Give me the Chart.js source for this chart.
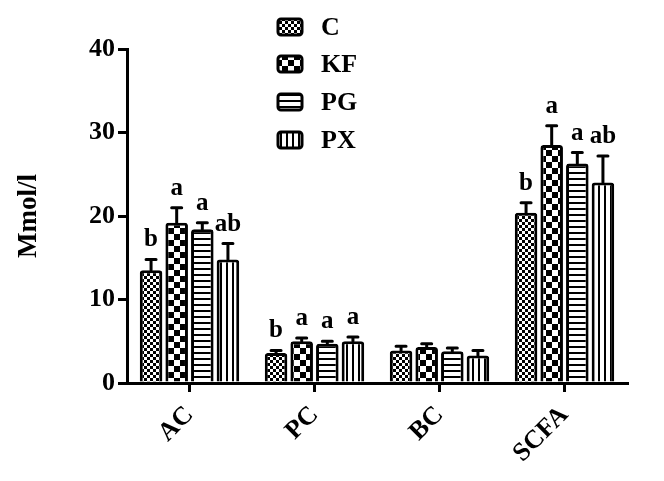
<!DOCTYPE html>
<html>
<head>
<meta charset="utf-8">
<script src="https://cdn.jsdelivr.net/npm/chart.js@4.4.1/dist/chart.umd.min.js"></script>
<style>
html, body { margin: 0; padding: 0; background: #fff; }
#wrap { width: 664px; height: 481px; position: relative; }
</style>
</head>
<body>
<div id="wrap"><canvas id="grafico"></canvas></div>
<script>
// dados do gráfico
const categorias = ['AC', 'PC', 'BC', 'SCFA'];
const grupos = ['C', 'KF', 'PG', 'PX'];
const valoresC = [13.5, 3.6, 3.9, 20.4];
const valoresKF = [19.2, 5.0, 4.3, 28.5];
const valoresPG = [18.4, 4.7, 3.8, 26.3];
const valoresPX = [14.8, 5.0, 3.3, 24.0];
const erroC = [1.3, 0.3, 0.5, 1.2];
const erroKF = [1.8, 0.4, 0.4, 2.3];
const erroPG = [0.8, 0.3, 0.4, 1.3];
const erroPX = [1.9, 0.5, 0.6, 3.2];
const letrasC = ['b', 'b', '', 'b'];
const letrasKF = ['a', 'a', '', 'a'];
const letrasPG = ['a', 'a', '', 'a'];
const letrasPX = ['ab', 'a', '', 'ab'];
const ticksY = [0, 10, 20, 30, 40];

const fonte = '"Liberation Serif", "Times New Roman", serif';

// padrões de preenchimento
function padrao(tipo) {
    const c = document.createElement('canvas');
    const g = c.getContext('2d');
    if (tipo === 'xadrezFino') {
        c.width = 6; c.height = 6;
        g.fillStyle = '#fff'; g.fillRect(0, 0, 6, 6);
        g.fillStyle = '#000'; g.fillRect(0, 0, 3, 3); g.fillRect(3, 3, 3, 3);
    } else if (tipo === 'xadrezGrosso') {
        c.width = 12; c.height = 12;
        g.fillStyle = '#fff'; g.fillRect(0, 0, 12, 12);
        g.fillStyle = '#000'; g.fillRect(0, 0, 6, 6); g.fillRect(6, 6, 6, 6);
    } else if (tipo === 'horizontal') {
        c.width = 6; c.height = 6;
        g.fillStyle = '#fff'; g.fillRect(0, 0, 6, 6);
        g.fillStyle = '#000'; g.fillRect(0, 4, 6, 2);
    } else {
        c.width = 6; c.height = 6;
        g.fillStyle = '#fff'; g.fillRect(0, 0, 6, 6);
        g.fillStyle = '#000'; g.fillRect(4, 0, 2, 6);
    }
    return g.createPattern(c, 'repeat');
}

const padroes = [padrao('xadrezFino'), padrao('xadrezGrosso'), padrao('horizontal'), padrao('vertical')];
const valores = [valoresC, valoresKF, valoresPG, valoresPX];
const erros = [erroC, erroKF, erroPG, erroPX];
const letras = [letrasC, letrasKF, letrasPG, letrasPX];

// barras de erro e letras
const errosPlugin = {
    id: 'errosPlugin',
    afterDatasetsDraw(chart) {
        const ctx = chart.ctx;
        const y = chart.scales.y;
        ctx.save();
        for (let i = 0; i < valores.length; i++) {
            const meta = chart.getDatasetMeta(i);
            meta.data.forEach((barra, j) => {
                const topo = y.getPixelForValue(valores[i][j]);
                const fim = y.getPixelForValue(valores[i][j] + erros[i][j]);
                ctx.strokeStyle = '#000';
                ctx.lineWidth = 3;
                ctx.lineCap = 'round';
                ctx.beginPath();
                ctx.moveTo(barra.x, topo);
                ctx.lineTo(barra.x, fim);
                ctx.moveTo(barra.x - 5, fim);
                ctx.lineTo(barra.x + 5, fim);
                ctx.stroke();
                if (letras[i][j]) {
                    ctx.fillStyle = '#000';
                    ctx.font = 'bold 25px ' + fonte;
                    ctx.textAlign = 'center';
                    ctx.textBaseline = 'alphabetic';
                    ctx.fillText(letras[i][j], barra.x, fim - 13);
                }
            });
        }
        ctx.restore();
    }
};

// legenda vertical
const legendaPlugin = {
    id: 'legendaPlugin',
    afterDraw(chart) {
        const ctx = chart.ctx;
        ctx.save();
        const linhas = [27, 64, 102, 140];
        grupos.forEach((nome, i) => {
            const cy = linhas[i];
            ctx.fillStyle = padroes[i];
            ctx.strokeStyle = '#000';
            ctx.lineWidth = 3;
            ctx.beginPath();
            ctx.roundRect(278, cy - 8, 24, 16, 3);
            ctx.fill();
            ctx.stroke();
            ctx.fillStyle = '#000';
            ctx.font = 'bold 26px ' + fonte;
            ctx.textAlign = 'left';
            ctx.textBaseline = 'middle';
            ctx.fillText(nome, 321, cy + 1);
        });
        ctx.restore();
    }
};

new Chart(document.getElementById('grafico'), {
    type: 'bar',
    data: {
        labels: categorias,
        datasets: grupos.map((nome, i) => ({
            label: nome,
            data: valores[i],
            backgroundColor: padroes[i],
            borderColor: '#000',
            borderWidth: 3,
            borderRadius: { topLeft: 3, topRight: 3 },
            borderSkipped: 'bottom',
            categoryPercentage: 0.82,
            barPercentage: 0.88
        }))
    },
    options: {
        responsive: true,
        maintainAspectRatio: false,
        animation: false,
        layout: { padding: { top: 49, right: 37, left: 0, bottom: 0 } },
        plugins: {
            legend: { display: false },
            tooltip: { enabled: false }
        },
        scales: {
            x: {
                afterFit: (s) => { s.height = 98; },
                grid: {
                    offset: false,
                    drawOnChartArea: false,
                    color: '#000',
                    lineWidth: 3,
                    tickLength: 9
                },
                border: { display: true, color: '#000', width: 3 },
                ticks: {
                    color: '#000',
                    font: { family: fonte, size: 26, weight: 'bold' },
                    minRotation: 45,
                    maxRotation: 45,
                    padding: 8
                }
            },
            y: {
                min: 0,
                max: 40,
                afterFit: (s) => { s.width = 127; },
                afterBuildTicks: (s) => { s.ticks = ticksY.map(v => ({ value: v })); },
                grid: {
                    drawOnChartArea: false,
                    color: '#000',
                    lineWidth: 3,
                    tickLength: 9
                },
                border: { display: true, color: '#000', width: 3 },
                ticks: {
                    color: '#000',
                    font: { family: fonte, size: 26, weight: 'bold' },
                    padding: 3
                },
                title: {
                    display: true,
                    text: 'Mmol/l',
                    color: '#000',
                    font: { family: fonte, size: 27, weight: 'bold' },
                    padding: { top: 13, bottom: 20 }
                }
            }
        }
    },
    plugins: [errosPlugin, legendaPlugin]
});
</script>
</body>
</html>
